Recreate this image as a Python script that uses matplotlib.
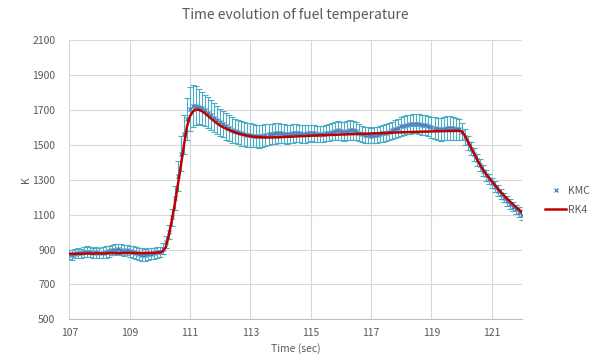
import numpy as np
import matplotlib
matplotlib.use("Agg")
import matplotlib.pyplot as plt

plt.rcParams['font.family'] = ['Noto Sans CJK KR', 'DejaVu Sans']

time_start, time_step = 107.0, 0.1

rk4 = [
    875, 875, 876, 876, 876, 877, 877, 877, 877, 878,
    878, 878, 878, 879, 879, 879, 879, 879, 880, 880,
    880, 880, 880, 880, 880, 880, 881, 881, 881, 882,
    884, 890, 915, 985, 1070, 1165, 1275, 1385, 1500, 1605,
    1665, 1692, 1702, 1700, 1692, 1680, 1665, 1650, 1636, 1622,
    1610, 1600, 1592, 1584, 1577, 1570, 1565, 1560, 1556, 1552,
    1549, 1547, 1545, 1544, 1543, 1542, 1542, 1542, 1543, 1543,
    1544, 1545, 1546, 1546, 1547, 1548, 1549, 1550, 1550, 1551,
    1552, 1553, 1553, 1554, 1555, 1555, 1556, 1557, 1557, 1558,
    1559, 1559, 1560, 1561, 1561, 1562, 1562, 1563, 1564, 1564,
    1565, 1566, 1566, 1567, 1568, 1568, 1569, 1570, 1570, 1571,
    1572, 1572, 1573, 1573, 1574, 1574, 1575, 1575, 1576, 1576,
    1577, 1577, 1578, 1578, 1578, 1579, 1579, 1579, 1580, 1580,
    1578, 1555, 1522, 1488, 1453, 1420, 1388, 1360, 1334, 1312,
    1292, 1270, 1249, 1229, 1210, 1192, 1175, 1159, 1143, 1128,
    1112,
]

kmc = [
    872, 868, 875, 880, 878, 885, 888, 884, 880, 883,
    878, 882, 886, 891, 895, 899, 902, 898, 894, 897,
    890, 885, 879, 874, 871, 869, 873, 876, 879, 883,
    888, 905, 945, 1000, 1085, 1195, 1320, 1450, 1560, 1650,
    1705, 1722, 1725, 1718, 1710, 1698, 1685, 1670, 1656, 1642,
    1630, 1618, 1605, 1595, 1585, 1578, 1572, 1566, 1562, 1558,
    1556, 1552, 1550, 1548, 1552, 1556, 1560, 1562, 1565, 1568,
    1566, 1563, 1560, 1562, 1565, 1568, 1566, 1563, 1562, 1565,
    1568, 1565, 1562, 1560, 1563, 1566, 1570, 1575, 1580, 1582,
    1578, 1575, 1580, 1585, 1583, 1578, 1570, 1562, 1558, 1555,
    1553, 1555, 1558, 1562, 1565, 1570, 1575, 1582, 1590, 1598,
    1605, 1610, 1615, 1618, 1620, 1622, 1620, 1615, 1612, 1608,
    1600, 1595, 1592, 1590, 1592, 1595, 1598, 1596, 1592, 1588,
    1575, 1545, 1510, 1478, 1445, 1412, 1382, 1352, 1326, 1304,
    1282, 1260, 1238, 1218, 1198, 1180, 1162, 1146, 1130, 1114,
    1098,
]

kmc_err = [
    25, 28, 26, 30, 27, 29, 31, 28, 27, 30,
    28, 30, 32, 31, 29, 33, 30, 31, 32, 30,
    31, 33, 34, 32, 35, 33, 34, 32, 31, 30,
    28, 30, 35, 40, 50, 70, 85, 100, 110, 120,
    125, 118, 112, 100, 95, 90, 88, 85, 82, 80,
    78, 76, 75, 73, 72, 70, 70, 70, 68, 68,
    68, 66, 65, 65, 64, 62, 60, 60, 58, 58,
    56, 55, 55, 54, 52, 52, 50, 50, 50, 48,
    48, 48, 46, 46, 45, 46, 48, 50, 52, 52,
    52, 54, 55, 55, 54, 52, 50, 48, 46, 45,
    45, 45, 46, 46, 47, 48, 48, 50, 50, 52,
    52, 53, 54, 55, 55, 55, 56, 56, 58, 58,
    60, 62, 64, 66, 66, 68, 68, 66, 64, 60,
    50, 45, 40, 38, 36, 35, 34, 33, 32, 31,
    30, 30, 29, 29, 28, 28, 28, 27, 27, 27,
    26,
]

x_ticks = [107, 109, 111, 113, 115, 117, 119, 121]
y_ticks = [500, 700, 900, 1100, 1300, 1500, 1700, 1900, 2100]

t = np.round(time_start + time_step * np.arange(len(kmc)), 2)

fig = plt.figure(figsize=(5.99, 3.58), dpi=100)
ax = fig.add_axes([0.1157, 0.108, 0.7558, 0.780])

txt = '#595959'
grid = '#d9d9d9'

ax.errorbar(t, kmc, yerr=kmc_err, fmt='none', ecolor='#4bacc6', elinewidth=0.8,
            capsize=2.5, capthick=0.8, zorder=2)
ax.plot(t, kmc, linestyle='none', marker='x', markersize=3.5, markeredgewidth=0.9,
        color='#4a7ebb', label='KMC', zorder=3)
ax.plot(t, rk4, color='#c00000', linewidth=1.8, label='RK4', zorder=4)

ax.set_xlim(107, 122)
ax.set_ylim(500, 2100)
ax.set_xticks(x_ticks)
ax.set_yticks(y_ticks)
ax.grid(True, color=grid, linewidth=0.8)
ax.set_axisbelow(True)
for s in ['top', 'right', 'left']:
    ax.spines[s].set_visible(False)
ax.spines['bottom'].set_color('#bfbfbf')
ax.tick_params(length=0, labelsize=7.5, colors=txt)
ax.tick_params(axis='y', pad=10)
ax.tick_params(axis='x', pad=6)

ax.set_title('Time evolution of fuel temperature', fontsize=10, color=txt, pad=15)
ax.set_xlabel('Time (sec)', fontsize=7.5, color=txt, labelpad=4)
ax.set_ylabel('K', fontsize=7.5, color=txt, labelpad=1)

fig.legend(loc='center left', bbox_to_anchor=(0.895, 0.44), frameon=False,
           fontsize=7.5, labelcolor=txt, handlelength=2.0, handletextpad=0.2,
           labelspacing=0.85)

fig.savefig('out.png', dpi=100, facecolor='white')
